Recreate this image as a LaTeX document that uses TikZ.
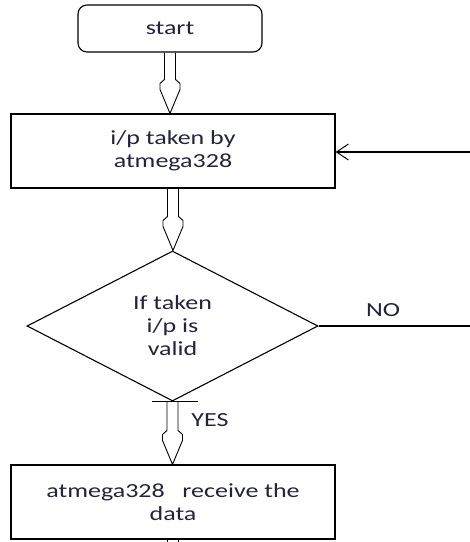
\documentclass[tikz,border=0pt]{standalone}
\usepackage{fontspec}
\setmainfont{Carlito}[FakeStretch=1.3]
\usepackage{xcolor}
\definecolor{tinta}{RGB}{35, 35, 60}
\usepackage{tikz}
\usetikzlibrary{shapes.geometric, arrows.meta, positioning, calc}

\begin{document}
\begin{tikzpicture}[x=1pt, y=-1pt, line width=1.1pt,
    every node/.style={font=\fontsize{20}{23}\selectfont, text=tinta},
    inicio/.style={draw, rounded corners=9pt, minimum width=184pt, minimum height=47pt},
    caja/.style={draw, rectangle, minimum width=324pt, minimum height=74pt, align=center},
    decision/.style={draw, diamond, minimum width=291pt, minimum height=150pt, align=center, inner sep=0pt},
    hueca/.style={line width=0.9pt, to path={let \p1=(\tikztostart), \p2=(\tikztotarget) in
        (\x1-5.5pt,\y1) -- (\x1-5.5pt,\y2+34pt) -- (\x1-10pt,\y2+30pt) -- (\x1-10pt,\y2+24pt)
        -- (\x1,\y2) -- (\x1+10pt,\y2+24pt) -- (\x1+10pt,\y2+30pt) -- (\x1+5.5pt,\y2+34pt) -- (\x1+5.5pt,\y1)}},
    tallo/.style={line width=0.9pt, to path={let \p1=(\tikztostart), \p2=(\tikztotarget) in
        (\x1-5.5pt,\y1) -- (\x1-5.5pt,\y2) (\x1+5.5pt,\y1) -- (\x1+5.5pt,\y2)}},
    retorno/.style={-{Straight Barb[length=12pt, width=16pt, line width=1pt]}}]
        \useasboundingbox (0,0) rectangle (470,542);
        % Nodos del diagrama
        \node[inicio] (start) at (170,28.5) {start};
        \node[caja] (toma) at (173,151) {i/p taken by\\atmega328};
        \node[decision] (valido) at (172.5,326) {If taken\\i/p is\\valid};
        \node[caja] (recibe) at (173,502) {atmega328\ \ \ receive the\\data};
        % Etiquetas y extremos libres
        \node (no) at (383,310) {NO};
        \node (yes) at (210,420) {YES};
        \coordinate (vuelta) at (470,152);
        \coordinate (salida) at (470,326);
        \coordinate (fin) at (173,548);
        % Flechas
        \draw[hueca] (start.south) to (toma.north);
        \draw[hueca] (toma.south) to (valido.north);
        \draw[hueca] (valido.south) to (recibe.north);
        \draw[tallo] (recibe.south) to (fin);
        \draw ([xshift=-21pt]valido.south) -- ([xshift=25pt]valido.south);
        \draw (valido.east) -- (salida);
        \draw[retorno] (vuelta) -- (vuelta -| toma.east);
    \end{tikzpicture}
\end{document}
